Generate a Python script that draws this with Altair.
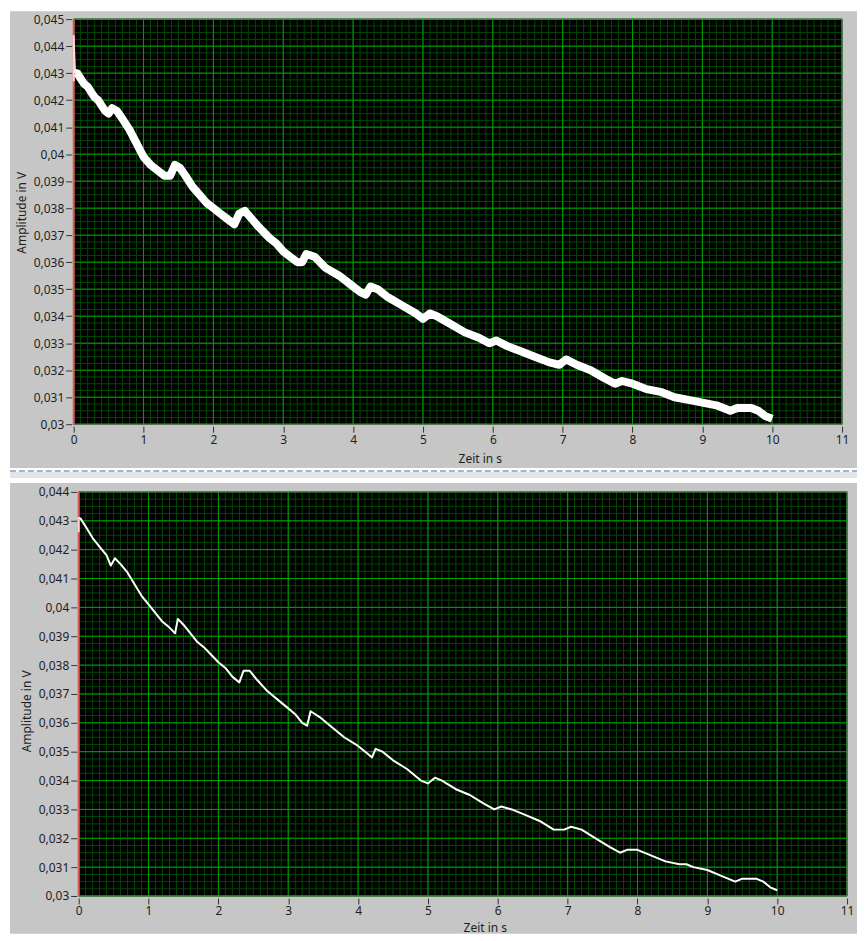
import altair as alt
import pandas as pd

# ---------------- data ----------------
top_t = [0.02, 0.05, 0.1, 0.15, 0.2, 0.25, 0.3, 0.35, 0.4, 0.45, 0.5, 0.55, 0.62, 0.7, 0.8, 0.9,
         1.0, 1.1, 1.2, 1.3, 1.38, 1.45, 1.52, 1.6, 1.7, 1.8, 1.9, 2.0, 2.1, 2.2, 2.3, 2.37, 2.45,
         2.55, 2.65, 2.8, 2.9, 3.0, 3.1, 3.2, 3.27, 3.33, 3.45, 3.6, 3.8, 4.0, 4.1, 4.18, 4.25,
         4.35, 4.5, 4.7, 4.9, 5.0, 5.1, 5.2, 5.4, 5.6, 5.8, 5.95, 6.05, 6.2, 6.4, 6.6, 6.8, 6.95,
         7.05, 7.2, 7.4, 7.6, 7.75, 7.85, 8.0, 8.2, 8.4, 8.6, 8.8, 9.0, 9.2, 9.4, 9.5, 9.7, 9.8,
         9.9, 10.0]
top_v = [0.0430, 0.0430, 0.0428, 0.0426, 0.0425, 0.0423, 0.0421, 0.0420, 0.0418, 0.0416, 0.0415,
         0.0417, 0.0416, 0.0413, 0.0409, 0.0404, 0.0399, 0.0396, 0.0394, 0.0392, 0.0392, 0.0396,
         0.0395, 0.0392, 0.0388, 0.0385, 0.0382, 0.0380, 0.0378, 0.0376, 0.0374, 0.0378, 0.0379,
         0.0376, 0.0373, 0.0369, 0.0367, 0.0364, 0.0362, 0.0360, 0.0360, 0.0363, 0.0362, 0.0358,
         0.0355, 0.0351, 0.0349, 0.0348, 0.0351, 0.0350, 0.0347, 0.0344, 0.0341, 0.0339, 0.0341,
         0.0340, 0.0337, 0.0334, 0.0332, 0.0330, 0.0331, 0.0329, 0.0327, 0.0325, 0.0323, 0.0322,
         0.0324, 0.0322, 0.0320, 0.0317, 0.0315, 0.0316, 0.0315, 0.0313, 0.0312, 0.0310, 0.0309,
         0.0308, 0.0307, 0.0305, 0.0306, 0.0306, 0.0305, 0.0303, 0.0302]
top_spike_t = [0.0, 0.0, 0.008, 0.02]
top_spike_v = [0.0427, 0.0444, 0.0437, 0.0430]

bot_t = [0.02, 0.1, 0.2, 0.3, 0.4, 0.46, 0.52, 0.6, 0.7, 0.8, 0.9, 1.0, 1.1, 1.2, 1.3, 1.38,
         1.42, 1.5, 1.6, 1.7, 1.8, 2.0, 2.1, 2.2, 2.3, 2.36, 2.45, 2.55, 2.7, 2.9, 3.0, 3.1, 3.2,
         3.27, 3.32, 3.45, 3.6, 3.8, 4.0, 4.15, 4.2, 4.25, 4.35, 4.5, 4.7, 4.9, 5.0, 5.1, 5.2,
         5.4, 5.6, 5.8, 5.95, 6.05, 6.2, 6.4, 6.6, 6.8, 6.95, 7.05, 7.2, 7.4, 7.6, 7.75, 7.85,
         8.0, 8.2, 8.4, 8.6, 8.7, 8.8, 9.0, 9.2, 9.4, 9.5, 9.7, 9.8, 9.9, 10.0]
bot_v = [0.0431, 0.0428, 0.0424, 0.0421, 0.0418, 0.04145, 0.0417, 0.0415, 0.0412, 0.0408, 0.0404,
         0.0401, 0.0398, 0.0395, 0.0393, 0.0391, 0.0396, 0.0394, 0.0391, 0.0388, 0.0386, 0.0381,
         0.0379, 0.0376, 0.0374, 0.0378, 0.0378, 0.0375, 0.0371, 0.0367, 0.0365, 0.0363, 0.0360,
         0.0359, 0.0364, 0.0362, 0.0359, 0.0355, 0.0352, 0.0349, 0.0348, 0.0351, 0.0350, 0.0347,
         0.0344, 0.0340, 0.0339, 0.0341, 0.0340, 0.0337, 0.0335, 0.0332, 0.0330, 0.0331, 0.0330,
         0.0328, 0.0326, 0.0323, 0.0323, 0.0324, 0.0323, 0.0320, 0.0317, 0.0315, 0.0316, 0.0316,
         0.0314, 0.0312, 0.0311, 0.0311, 0.0310, 0.0309, 0.0307, 0.0305, 0.0306, 0.0306, 0.0305,
         0.0303, 0.0302]
bot_spike_t = [0.0, 0.0, 0.02]
bot_spike_v = [0.0426, 0.0431, 0.0431]

x_ticks = list(range(0, 12))
top_y_ticks = [round(0.030 + 0.001 * i, 3) for i in range(16)]
bot_y_ticks = [round(0.030 + 0.001 * i, 3) for i in range(15)]
x_minor = [round(0.1 * i, 1) for i in range(111)]
top_y_minor = [round(0.030 + 0.00025 * i, 5) for i in range(61)]
bot_y_minor = [round(0.030 + 0.00025 * i, 5) for i in range(57)]

# ---------------- style ----------------
FONT = "Noto Sans"
GRAY = "#c6c6c6"
MAJOR = "#00a000"
MINOR = "#004a00"
TEXT = "#1e1e1e"


def panel(t, v, st, sv, ymax, yticks, yminor, shift, w, h, left, right, top, bottom,
          ytitle_y, xtitle_y, line_w, extras):
    # 'shift' px of empty room on the left of the plot so the lower graph sits further right
    vw = w + shift
    x0 = -11.0 * shift / w
    xs = alt.Scale(domain=[x0, 11], nice=False, zero=False)
    ys = alt.Scale(domain=[0.030, ymax], nice=False, zero=False)
    xax = alt.Axis(values=x_ticks, format="d", title="Zeit in s", grid=False, domain=False,
                   zindex=1, offset=2, tickSize=6, tickColor="#333333", labelPadding=2,
                   labelFont=FONT, labelFontSize=12, labelColor=TEXT, labelFlush=False,
                   labelOverlap=False, titleFont=FONT, titleFontSize=12, titleFontWeight="normal",
                   titleColor=TEXT, titleX=408 + shift, titleY=xtitle_y, titleAlign="center",
                   titleBaseline="middle")
    yax = alt.Axis(values=yticks, labelExpr="replace(format(datum.value, '.3~f'), '.', ',')",
                   title="Amplitude in V", grid=False, domain=False, zindex=1, offset=2 - shift,
                   tickSize=6, tickColor="#333333", labelPadding=2, labelFont=FONT,
                   labelFontSize=12, labelColor=TEXT, labelFlush=False, labelOverlap=False,
                   titleFont=FONT, titleFontSize=12, titleFontWeight="normal", titleColor=TEXT,
                   titleAngle=270, titleX=-50, titleY=ytitle_y, titleAlign="center",
                   titleBaseline="middle")

    def X(f):
        return alt.X(f, type="quantitative", scale=xs, axis=xax)

    def Y(f):
        return alt.Y(f, type="quantitative", scale=ys, axis=yax)

    one = pd.DataFrame({"k": [0]})
    bg = alt.Chart(one).mark_rect(fill=GRAY).encode(
        x=alt.value(-left), x2=alt.value(vw + right), y=alt.value(-top), y2=alt.value(h + bottom))
    plotbg = alt.Chart(one).mark_rect(fill="black").encode(
        x=alt.value(shift), x2=alt.value(vw), y=alt.value(0), y2=alt.value(h))
    vminor = alt.Chart(pd.DataFrame({"x": x_minor})).mark_rule(
        color=MINOR, strokeWidth=1).encode(x=X("x"))
    hminor = alt.Chart(pd.DataFrame({"y": yminor})).mark_rule(
        color=MINOR, strokeWidth=1).encode(y=Y("y"), x=alt.value(shift), x2=alt.value(vw))
    vmajor = alt.Chart(pd.DataFrame({"x": x_ticks})).mark_rule(
        color=MAJOR, strokeWidth=1).encode(x=X("x"))
    hmajor = alt.Chart(pd.DataFrame({"y": yticks})).mark_rule(
        color=MAJOR, strokeWidth=1).encode(y=Y("y"), x=alt.value(shift), x2=alt.value(vw))
    border = alt.Chart(one).mark_rect(fillOpacity=0, stroke="#6e6e6e", strokeWidth=1).encode(
        x=alt.value(shift), x2=alt.value(vw), y=alt.value(0), y2=alt.value(h))
    red = alt.Chart(pd.DataFrame({"x": [0]})).mark_rule(
        color="#e05a55", strokeWidth=2).encode(x=X("x"))
    spike = alt.Chart(pd.DataFrame({"x": st, "y": sv, "i": list(range(len(st)))})).mark_line(
        color="#ffd6d6", strokeWidth=2).encode(x=X("x"), y=Y("y"), order=alt.Order("i:Q"))
    line = alt.Chart(pd.DataFrame({"x": t, "y": v, "i": list(range(len(t)))})).mark_line(
        color="white", strokeWidth=line_w, strokeJoin="round", strokeCap="butt").encode(
        x=X("x"), y=Y("y"), order=alt.Order("i:Q"))
    return alt.layer(bg, *extras, plotbg, vminor, hminor, vmajor, hmajor, border, red,
                     spike, line).properties(width=vw, height=h)


W = 772
# separator under the top panel: dashed line and light strip
sep_line = alt.Chart(pd.DataFrame({"k": [0]})).mark_rule(
    color="#7f9fc4", strokeWidth=1.5, strokeDash=[6, 3]).encode(
    x=alt.value(-64), x2=alt.value(W + 15), y=alt.value(454))
sep_strip = alt.Chart(pd.DataFrame({"k": [0]})).mark_rect(fill="#e4e4e4").encode(
    x=alt.value(-64), x2=alt.value(W + 15), y=alt.value(455), y2=alt.value(461))

top = panel(top_t, top_v, top_spike_t, top_spike_v, 0.045, top_y_ticks, top_y_minor, 0,
            W, 407, 64, 15, 8, 44, 194, 32, 8, [sep_line, sep_strip])
bot = panel(bot_t, bot_v, bot_spike_t, bot_spike_v, 0.044, bot_y_ticks, bot_y_minor, 5,
            W, 406, 64, 10, 9, 38, 220, 30, 2, [])

chart = alt.vconcat(top, bot, spacing=3).resolve_scale(
    x="independent", y="independent").properties(
    padding=0, background="white").configure_view(stroke="transparent")

chart.save("out.html", embed_options={"renderer": "svg", "actions": False})
